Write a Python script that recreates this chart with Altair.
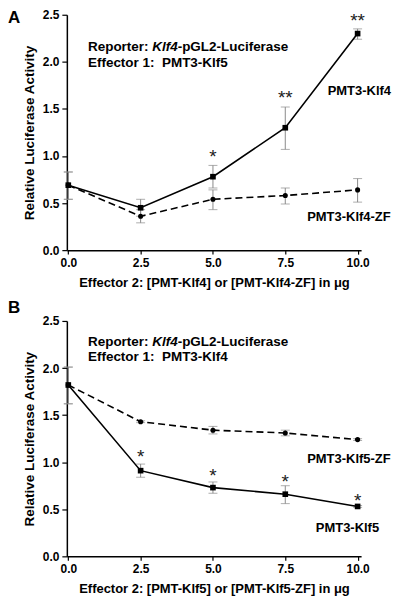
import altair as alt
import pandas as pd

FONT = "Liberation Sans"

doses = [0.0, 2.5, 5.0, 7.5, 10.0]
x_ticks = [0.0, 2.5, 5.0, 7.5, 10.0]
y_ticks = [0.0, 0.5, 1.0, 1.5, 2.0, 2.5]

# Panel A
a_solid = [0.69, 0.45, 0.78, 1.30, 2.30]
a_solid_lo = [0.54, 0.36, 0.66, 1.07, 2.24]
a_solid_hi = [0.83, 0.54, 0.90, 1.52, 2.35]
a_dashed = [0.69, 0.36, 0.54, 0.58, 0.64]
a_dashed_lo = [0.54, 0.29, 0.43, 0.49, 0.51]
a_dashed_hi = [0.83, 0.43, 0.64, 0.66, 0.76]
a_star_x = [5.0, 7.5, 10.0]
a_star_y = [1.04, 1.67, 2.49]
a_star_text = ["*", "**", "**"]
a_effector = "Effector 1:\u00a0 PMT3-Klf5"
a_xtitle = "Effector 2: [PMT-Klf4] or [PMT-Klf4-ZF] in \u03bcg"
a_label_x = [10.06, 9.70]
a_label_y = [1.69, 0.35]
a_label_text = ["PMT3-Klf4", "PMT3-Klf4-ZF"]
a_note_y = [2.16, 1.99]

# Panel B
b_solid = [1.82, 0.91, 0.73, 0.66, 0.53]
b_solid_lo = [1.62, 0.84, 0.67, 0.56, 0.52]
b_solid_hi = [2.01, 0.98, 0.79, 0.75, 0.54]
b_dashed = [1.82, 1.43, 1.34, 1.31, 1.24]
b_dashed_lo = [1.62, 1.42, 1.30, 1.28, 1.23]
b_dashed_hi = [2.01, 1.44, 1.38, 1.34, 1.25]
b_star_x = [2.5, 5.0, 7.5, 10.0]
b_star_y = [1.11, 0.91, 0.84, 0.64]
b_star_text = ["*", "*", "*", "*"]
b_effector = "Effector 1:\u00a0 PMT3-Klf4"
b_xtitle = "Effector 2: [PMT-Klf5] or [PMT-Klf5-ZF] in \u03bcg"
b_label_x = [9.70, 9.65]
b_label_y = [1.03, 0.30]
b_label_text = ["PMT3-Klf5-ZF", "PMT3-Klf5"]
b_note_y = [2.28, 2.12]

W, H = 295, 236


def panel(letter, letter_y, solid, solid_lo, solid_hi, dashed, dashed_lo, dashed_hi,
          star_x, star_y, star_text, effector, xtitle, label_x, label_y, label_text, note_y):
    xs = alt.Scale(domain=[-0.05, 10.12], nice=False, zero=False)
    ys = alt.Scale(domain=[0, 2.5], nice=False)
    xaxis = alt.Axis(values=x_ticks, format=".1f", title=xtitle,
                     tickSize=4, labelPadding=3, titlePadding=8)
    yaxis = alt.Axis(values=y_ticks, format=".1f", title="Relative Luciferase Activity",
                     tickSize=5, labelPadding=3, titlePadding=6, titleFontSize=13.5)
    xenc = alt.X("x:Q", scale=xs, axis=xaxis)
    yenc = alt.Y("y:Q", scale=ys, axis=yaxis)

    sdf = pd.DataFrame({"x": doses, "y": solid, "lo": solid_lo, "hi": solid_hi})
    ddf = pd.DataFrame({"x": doses, "y": dashed, "lo": dashed_lo, "hi": dashed_hi})

    layers = []
    for df in (ddf, sdf):
        base = alt.Chart(df)
        layers.append(base.mark_rule(color="#8a8a8a", strokeWidth=1).encode(
            x=xenc, y=alt.Y("lo:Q", scale=ys, axis=yaxis), y2="hi:Q"))
        layers.append(base.mark_tick(color="#8a8a8a", orient="horizontal", size=9, thickness=1).encode(
            x=xenc, y=alt.Y("lo:Q", scale=ys, axis=yaxis)))
        layers.append(base.mark_tick(color="#8a8a8a", orient="horizontal", size=9, thickness=1).encode(
            x=xenc, y=alt.Y("hi:Q", scale=ys, axis=yaxis)))

    layers.append(alt.Chart(ddf).mark_line(color="black", strokeWidth=1.6, strokeDash=[7, 4]).encode(x=xenc, y=yenc))
    layers.append(alt.Chart(sdf).mark_line(color="black", strokeWidth=1.6).encode(x=xenc, y=yenc))
    layers.append(alt.Chart(ddf).mark_circle(color="black", size=26, opacity=1).encode(x=xenc, y=yenc))
    layers.append(alt.Chart(sdf).mark_point(shape="square", filled=True, color="black", size=32, opacity=1).encode(x=xenc, y=yenc))

    stars = pd.DataFrame({"x": star_x, "y": star_y, "t": star_text})
    layers.append(alt.Chart(stars).mark_text(font=FONT, fontSize=19, baseline="middle", dy=5, color="#222").encode(
        x=xenc, y=yenc, text="t:N"))

    labels = pd.DataFrame({"x": label_x, "y": label_y, "t": label_text})
    layers.append(alt.Chart(labels).mark_text(font=FONT, fontSize=13, fontWeight="bold", baseline="middle").encode(
        x=xenc, y=yenc, text="t:N"))

    n1 = pd.DataFrame({"x": [0.68], "y": [note_y[0]], "t": ["Reporter:"]})
    n2 = pd.DataFrame({"x": [3.78], "y": [note_y[0]], "t": ["Klf4"]})
    n3 = pd.DataFrame({"x": [3.78], "y": [note_y[0]], "t": ["-pGL2-Luciferase"]})
    n4 = pd.DataFrame({"x": [0.68], "y": [note_y[1]], "t": [effector]})
    layers.append(alt.Chart(n1).mark_text(font=FONT, fontSize=13.5, fontWeight="bold", align="left", baseline="middle").encode(
        x=xenc, y=yenc, text="t:N"))
    layers.append(alt.Chart(n2).mark_text(font=FONT, fontSize=13.5, fontWeight="bold", fontStyle="italic", align="right", baseline="middle").encode(
        x=xenc, y=yenc, text="t:N"))
    layers.append(alt.Chart(n3).mark_text(font=FONT, fontSize=13.5, fontWeight="bold", align="left", baseline="middle").encode(
        x=xenc, y=yenc, text="t:N"))
    layers.append(alt.Chart(n4).mark_text(font=FONT, fontSize=13.5, fontWeight="bold", align="left", baseline="middle").encode(
        x=xenc, y=yenc, text="t:N"))

    let = pd.DataFrame({"t": [letter]})
    layers.append(alt.Chart(let).mark_text(font=FONT, fontSize=17, fontWeight="bold", align="left", baseline="top").encode(
        x=alt.value(-59), y=alt.value(letter_y), text="t:N"))

    return alt.layer(*layers).properties(width=W, height=H)


pa = panel("A", -5, a_solid, a_solid_lo, a_solid_hi, a_dashed, a_dashed_lo, a_dashed_hi,
           a_star_x, a_star_y, a_star_text, a_effector, a_xtitle, a_label_x, a_label_y, a_label_text, a_note_y)
pb = panel("B", -21, b_solid, b_solid_lo, b_solid_hi, b_dashed, b_dashed_lo, b_dashed_hi,
           b_star_x, b_star_y, b_star_text, b_effector, b_xtitle, b_label_x, b_label_y, b_label_text, b_note_y)

chart = alt.vconcat(pa, pb, spacing=10).properties(padding=0, background="white").configure_view(
    stroke=None
).configure_axis(
    grid=False,
    domainColor="black",
    domainWidth=1.5,
    tickColor="black",
    tickWidth=1.2,
    labelColor="black",
    titleColor="black",
    labelFont=FONT,
    labelFontWeight="bold",
    labelFontSize=12,
    titleFont=FONT,
    titleFontWeight="bold",
    titleFontSize=13,
)

chart.save("out.html", embed_options={"renderer": "svg", "actions": False})
